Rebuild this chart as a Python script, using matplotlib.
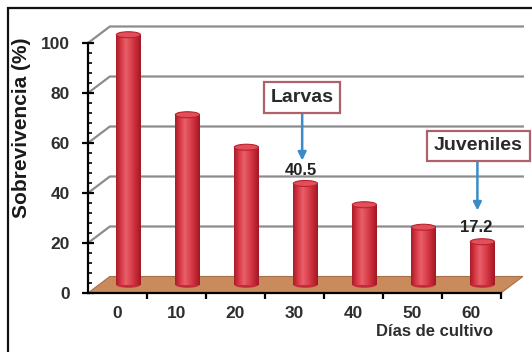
import numpy as np
import matplotlib.pyplot as plt
from matplotlib.patches import Ellipse, Polygon, Rectangle
from matplotlib.colors import LinearSegmentedColormap

plt.rcParams['font.family'] = ['Liberation Sans', 'DejaVu Sans']
plt.rcParams['font.weight'] = 'bold'

dias = ['0', '10', '20', '30', '40', '50', '60']
sobrevivencia = [100, 68, 55, 40.5, 32, 23, 17.2]
yticks = [0, 20, 40, 60, 80, 100]

# pseudo-3D depth of the chart box, in data units
DX, DY = 0.37, 6.6
BAR_W = 0.41
ELL_H = 2.4

fig = plt.figure(figsize=(5.32, 3.52), dpi=100)
ax = fig.add_axes([88 / 532, 59 / 352, 413 / 532, 250 / 352])

cyl = LinearSegmentedColormap.from_list(
    'cyl', ['#a81c28', '#d83a46', '#e8606a', '#dc4450', '#c52a36', '#a01824'])
grad = np.linspace(0, 1, 64).reshape(1, -1)

# back wall / side wall gridlines
for v in yticks[1:]:
    ax.plot([0, DX, len(dias) + DX], [v, v + DY, v + DY],
            color='#8c8c8c', lw=1.6, zorder=1, clip_on=False)

# floor
floor = Polygon([(0, 0), (len(dias), 0), (len(dias) + DX, DY), (DX, DY)],
                closed=True, facecolor='#c98a5c', edgecolor='#a8704a',
                lw=0.8, zorder=2, clip_on=False)
ax.add_patch(floor)

# cylinders
for i, val in enumerate(sobrevivencia):
    cx = i + 0.5 + DX / 2
    base = DY / 2
    top = base + val
    ax.add_patch(Ellipse((cx, base), BAR_W, ELL_H, facecolor='#c02c38',
                         edgecolor='none', zorder=3, clip_on=False))
    im = ax.imshow(grad, cmap=cyl, aspect='auto', interpolation='bilinear',
                   extent=[cx - BAR_W / 2, cx + BAR_W / 2, base, top], zorder=4)
    im.set_clip_on(False)
    ax.add_patch(Ellipse((cx, top), BAR_W, ELL_H, facecolor='#e24e5a',
                         edgecolor='#b8222e', lw=0.8, zorder=5, clip_on=False))

ax.set_xlim(0, len(dias))
ax.set_ylim(0, 100)

for s in ['top', 'right']:
    ax.spines[s].set_visible(False)
ax.spines['left'].set_linewidth(1.6)
ax.spines['bottom'].set_linewidth(1.6)
ax.spines['left'].set_zorder(6)
ax.spines['bottom'].set_zorder(6)

ax.set_yticks(yticks)
ax.set_yticks(np.arange(0, 101, 4), minor=True)
ax.tick_params(axis='y', which='major', direction='inout', length=8, width=1.6,
               labelsize=12.5, labelcolor='#2e2e2e', pad=9)
ax.tick_params(axis='y', which='minor', direction='in', length=3, width=1.2)

ax.set_xticks(np.arange(1, len(dias) + 1))
ax.set_xticklabels([])
ax.set_xticks(np.arange(len(dias)) + 0.5, minor=True)
ax.set_xticklabels(dias, minor=True)
ax.tick_params(axis='x', which='major', direction='out', length=4, width=1.6)
ax.tick_params(axis='x', which='minor', length=0, labelsize=12.5,
               labelcolor='#2e2e2e', pad=9)
ax.set_facecolor('none')

fig.text(22 / 532, 1 - 128 / 352, 'Sobrevivencia (%)', rotation=90,
         ha='center', va='center', fontsize=15, color='#1a1a1a')
fig.text(435 / 532, 1 - 331 / 352, 'Días de cultivo', ha='center',
         va='center', fontsize=12, color='#2e2e2e')

# stage callouts
box = dict(boxstyle='square,pad=0.35', facecolor='white',
           edgecolor='#b06068', lw=1.6)
arrow = dict(arrowstyle='-|>', color='#3a8cc8', lw=1.8, mutation_scale=12,
             shrinkA=0, shrinkB=0)

ax.annotate('', xy=(3.63, 53), xytext=(3.63, 72.5), arrowprops=arrow, zorder=7)
ax.text(3.63, 78.2, 'Larvas', ha='center', va='center', fontsize=14,
        color='#2a2a2a', bbox=box, zorder=8)
ax.text(3.6, 49, f'{sobrevivencia[3]}', ha='center', va='center',
        fontsize=12, color='#222222', zorder=8)

ax.annotate('', xy=(6.6, 33), xytext=(6.6, 53), arrowprops=arrow, zorder=7)
ax.text(6.62, 58.8, 'Juveniles', ha='center', va='center', fontsize=14,
        color='#2a2a2a', bbox=box, zorder=8, clip_on=False)
ax.text(6.58, 26, f'{sobrevivencia[6]}', ha='center', va='center',
        fontsize=12, color='#222222', zorder=8)

# outer frame
fig.patches.append(Rectangle((8 / 532, -0.2), 1.2, 1 - 8 / 352 + 0.2,
                             transform=fig.transFigure, fill=False,
                             edgecolor='#111111', lw=1.6))

fig.savefig('out.png', dpi=100)
